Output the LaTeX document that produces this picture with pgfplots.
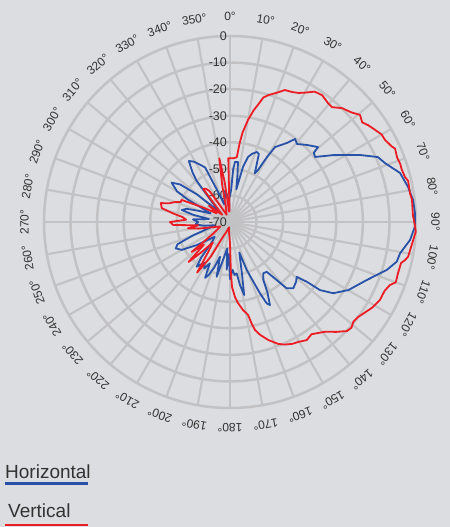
\documentclass[border=0pt]{standalone}
\usepackage{pgfplots}
\pgfplotsset{compat=1.18}
\usepackage{pgfplotstable}
\usepackage{fontspec}
\setmainfont{Liberation Sans}
\definecolor{bg}{RGB}{220,221,224}
\definecolor{gridc}{RGB}{194,194,196}
\definecolor{hblue}{RGB}{40,82,168}
\definecolor{vred}{RGB}{236,28,36}
\definecolor{txt}{RGB}{50,50,50}

\pgfplotstableread{
a d
0 -60
2 -58
3.5 -50
4.8 -47.3
7.6 -47.2
9 -52
11 -57.5
13.3 -48.7
15.5 -44.6
18 -43
21 -41.8
23 -42.2
24.6 -45.6
27 -49.5
28.3 -47.8
29.7 -41.8
31 -37.1
35.8 -33.3
38.1 -30.3
40.7 -31.3
45 -29
49.6 -26.5
50.5 -29.1
52.6 -29.7
57 -23.8
62.7 -15
66.3 -9.2
69.2 -7.6
73.9 -3.4
78.9 -1.7
83.1 -0.6
87.2 -0.3
91.5 -0.4
95.7 -1.9
100.4 -4.9
103.4 -5.5
107 -8.3
113 -14.1
119.9 -18.6
124.6 -22.8
127.1 -27.5
127.9 -33.4
129.4 -37.5
132 -36.5
136.3 -35.5
139.5 -37.2
141.2 -42
143.6 -46.7
147 -47
150.1 -44.8
152 -40
154.3 -35.3
155.7 -36.4
157.2 -40.9
160.8 -50.9
163 -58
165 -55
167 -50
169 -42
171 -46
172.6 -50.5
175 -50
177 -52
180 -48.5
182 -58
184 -52
186 -60
190 -56
193.7 -48.8
196 -56.4
199 -52
202 -48.4
204 -47
206 -52.7
209 -50
212 -52
216.7 -49
219 -53
222 -60
226 -62
230 -60
235 -55
240 -49
244 -47.3
247 -48.5
250 -55
254 -62
258 -64
262 -60
266 -57
270 -58
274 -56
278 -62
281 -56
284 -51.3
287 -53
290 -58
294 -62
298 -52
300 -47
304 -43.5
307 -46.5
310 -54
314 -65
318 -60
321 -50
323 -46.5
326 -42.3
329 -43.5
333 -46
335.5 -47.5
338 -57
342 -63
347 -61
352 -58
356 -62
360 -60
}\bluedata

\pgfplotstableread{
a d
0 -46
3 -46
6 -45.5
7 -40
8 -36
10 -31
12 -27
13.8 -24
15 -21.5
17 -20
20 -18.2
22.6 -16.2
25.5 -15.8
28 -15
30 -13.8
33 -11.5
36 -11
39.5 -12
41.6 -12.2
44.5 -9.9
48 -8.4
50.5 -6.6
53 -7.7
55 -6.5
57 -5.6
60 -4.1
62 -4
65 -2.8
66 -2
69 -2.6
71 -2.3
73 -2.4
75.6 -2
77 -1.2
81 -1.4
83 -1
88 -1.1
91 -0.4
93 0
96 -0.8
99 -1.4
101 -1.7
102.3 -2.6
103.5 -3.8
107 -3.9
110 -3.6
111.5 -5.3
114 -6.3
117.5 -6.4
121 -7.5
124 -8.9
126.6 -10
129 -10.3
131 -9.4
133 -9.8
136 -12.5
139 -15.3
144 -17.8
147 -17
150.5 -18.1
153 -18.5
156 -19.5
158.5 -20.7
162 -23.3
165 -26
167 -28.3
168 -31
169 -34.4
171.6 -36.5
174.4 -39.4
176.2 -41.7
178.2 -45.5
179 -50.8
180 -62
185 -66
190 -68
200 -66
205 -64
209 -55
213 -47.3
216 -56
220 -60
223 -55
226 -48.3
229 -57
232 -51.7
235 -62
245 -66
255 -62
258 -58
261.4 -54
264 -58
267 -48.6
270 -47.4
273 -53.5
276 -52
278.5 -48.4
281.5 -43.8
285.3 -43
287 -46
290 -48
292 -50
294.5 -50
298 -58
303 -64
308 -60
313 -66
318 -62
321 -54
324 -54.5
326.5 -56
330 -64
335 -67
340 -66
345 -64
348 -56
350.5 -45.7
352.5 -55
355 -66
357.5 -66
358.5 -46
360 -46
}\reddata

\begin{document}
\begin{tikzpicture}
\begin{axis}[width=450pt,height=527pt,scale only axis,hide axis,
  xmin=-86.56,xmax=82.80,ymin=-114.79,ymax=83.55,clip=false]
\fill[bg] (-86.56,-114.79) rectangle (82.80,83.55);
\pgfplotsinvokeforeach{1,...,7}{\draw[gridc,line width=2.5pt] (0,0) circle[radius=#1*26.571pt];}
\pgfplotsinvokeforeach{0,10,...,350}{%
  \draw[gridc,line width=2.1pt] (0,0) -- ({70*sin(#1)},{70*cos(#1)});
  \node[txt,font=\fontsize{12}{14}\selectfont,rotate=-#1,inner sep=0pt] at ({77.3*sin(#1)},{77.3*cos(#1)}) {#1°};
}
\node[txt,font=\fontsize{12.5}{14}\selectfont,anchor=east,inner sep=0pt] at (-1.1,70) {0};
\node[txt,font=\fontsize{12.5}{14}\selectfont,anchor=east,inner sep=0pt] at (-1.1,60) {-10};
\node[txt,font=\fontsize{12.5}{14}\selectfont,anchor=east,inner sep=0pt] at (-1.1,50) {-20};
\node[txt,font=\fontsize{12.5}{14}\selectfont,anchor=east,inner sep=0pt] at (-1.1,40) {-30};
\node[txt,font=\fontsize{12.5}{14}\selectfont,anchor=east,inner sep=0pt] at (-1.1,30) {-40};
\node[txt,font=\fontsize{12.5}{14}\selectfont,anchor=east,inner sep=0pt] at (-1.1,20) {-50};
\node[txt,font=\fontsize{12.5}{14}\selectfont,anchor=east,inner sep=0pt] at (-1.1,10) {-60};
\node[txt,font=\fontsize{12.5}{14}\selectfont,anchor=east,inner sep=0pt] at (-1.1,0) {-70};
\addplot[hblue,line width=1.8pt,line join=round] table[x expr={(\thisrow{d}+70)*sin(\thisrow{a})},y expr={(\thisrow{d}+70)*cos(\thisrow{a})}] {\bluedata};
\addplot[vred,line width=1.8pt,line join=round] table[x expr={(\thisrow{d}+70)*sin(\thisrow{a})},y expr={(\thisrow{d}+70)*cos(\thisrow{a})}] {\reddata};
\node[txt,font=\fontsize{19}{22}\selectfont,anchor=base west,inner sep=0pt] at (-84.68,-96.35) {Horizontal};
\draw[hblue,line width=2.7pt] (-84.68,-98.34) -- (-53.44,-98.34);
\node[txt,font=\fontsize{19}{22}\selectfont,anchor=base west,inner sep=0pt] at (-83.55,-111.4) {Vertical};
\draw[vred,line width=2.7pt] (-84.68,-114.0) -- (-53.44,-114.0);
\end{axis}
\end{tikzpicture}
\end{document}
